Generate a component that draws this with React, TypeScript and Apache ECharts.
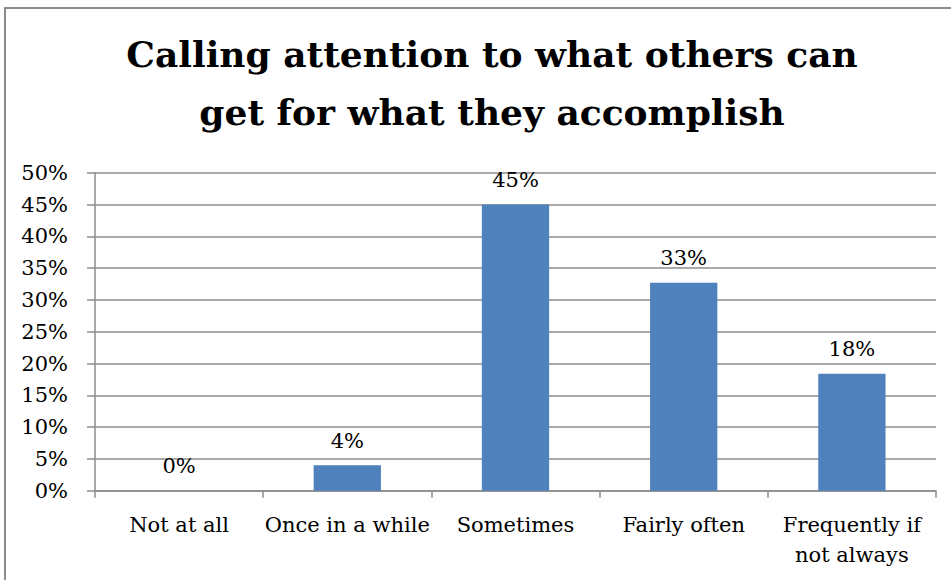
import React, { useEffect, useRef } from "react";
import * as echarts from "echarts";

const titleLines = ["Calling attention to what others can", "get for what they accomplish"];
const categories = ["Not at all", "Once in a while", "Sometimes", "Fairly often", "Frequently if\nnot always"];
const values = [0, 0.04, 0.45, 0.327, 0.184];
const yMin = 0;
const yMax = 0.5;
const yStep = 0.05;

const FONT = "DejaVu Serif";

export default function App() {
  const ref = useRef<HTMLDivElement>(null);
  useEffect(() => {
    if (!ref.current) return;
    const chart = echarts.init(ref.current, null, { renderer: "svg" });
    chart.setOption({
      animation: false,
      backgroundColor: "#ffffff",
      textStyle: { fontFamily: FONT },
      title: {
        text: titleLines.join("\n"),
        left: 487,
        textAlign: "center",
        top: 20,
        textStyle: {
          fontFamily: FONT,
          fontWeight: "bold",
          fontSize: 36,
          lineHeight: 58,
          color: "#000000",
        },
      },
      graphic: [
        {
          type: "rect",
          shape: { x: 5, y: 8, width: 970, height: 600 },
          style: { fill: "none", stroke: "#8c8c8c", lineWidth: 2 },
          silent: true,
          z: 100,
        },
      ],
      grid: { left: 95, right: 15, top: 172.7, bottom: 89.3, containLabel: false },
      xAxis: {
        type: "category",
        data: categories,
        axisLine: { show: true, lineStyle: { color: "#8c8c8c", width: 1.5 } },
        axisTick: { show: true, length: 7, alignWithLabel: false, lineStyle: { color: "#8c8c8c", width: 1.5 } },
        axisLabel: {
          fontFamily: FONT,
          fontSize: 21,
          color: "#000000",
          margin: 19,
          lineHeight: 30,
          interval: 0,
        },
      },
      yAxis: {
        type: "value",
        min: yMin,
        max: yMax,
        interval: yStep,
        axisLine: { show: true, lineStyle: { color: "#8c8c8c", width: 1.5 } },
        axisTick: { show: true, length: 8, lineStyle: { color: "#8c8c8c", width: 1.5 } },
        splitLine: { show: true, lineStyle: { color: "#8c8c8c", width: 1.5 } },
        axisLabel: {
          fontFamily: FONT,
          fontSize: 21,
          color: "#000000",
          margin: 27,
          formatter: (v: number) => `${Math.round(v * 100)}%`,
        },
      },
      series: [
        {
          type: "bar",
          data: values,
          barWidth: "40%",
          itemStyle: { color: "#4f81bd" },
          label: {
            show: true,
            position: "top",
            distance: 14,
            fontFamily: FONT,
            fontSize: 21,
            color: "#000000",
            formatter: (p: any) => `${Math.round(p.value * 100)}%`,
          },
        },
      ],
    });
    return () => chart.dispose();
  }, []);
  return <div ref={ref} style={{ position: "fixed", left: 0, top: 0, width: 951, height: 580 }} />;
}
